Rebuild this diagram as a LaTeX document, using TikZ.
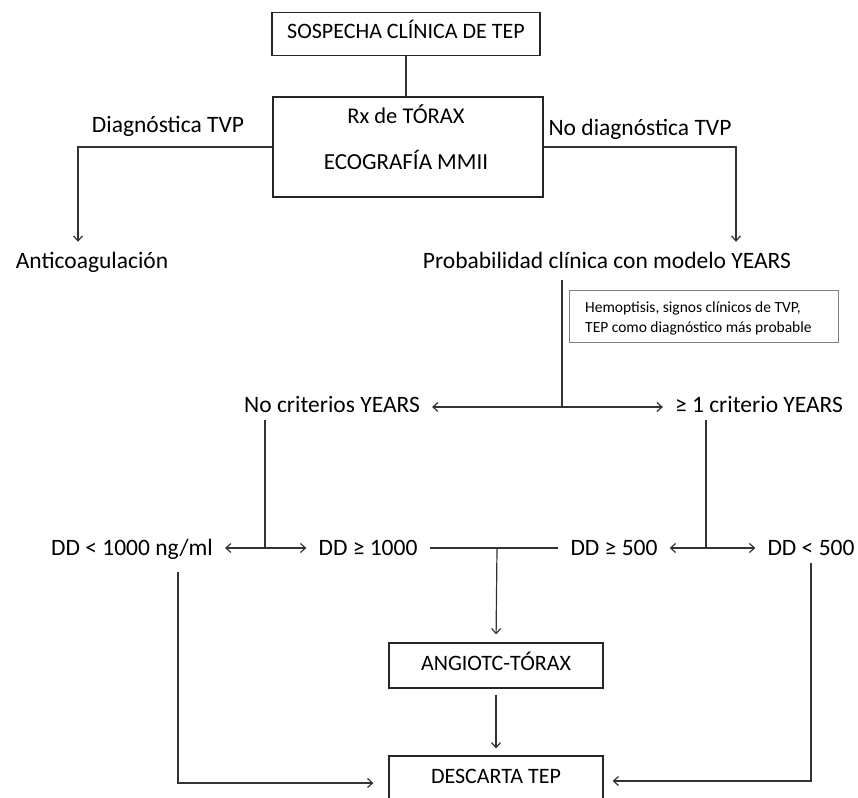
\documentclass[tikz,border=0pt]{standalone}
\usepackage{fontspec}
\setmainfont{Carlito}
\usetikzlibrary{arrows.meta}
\begin{document}
\begin{tikzpicture}[x=1pt,y=-1pt,
  line/.style={draw=black!80, line width=1.2pt},
  arr/.style={line, -{Straight Barb[length=5pt,width=9pt]}},
  box/.style={draw=black!85, line width=1.2pt, inner sep=0pt,
    font=\fontsize{22}{26}\selectfont, text height=15pt, text depth=5pt},
  txt/.style={font=\fontsize{23.5}{28}\selectfont, inner xsep=12pt, inner ysep=0pt,
    text height=15pt, text depth=5pt},
]
\useasboundingbox (0,0) rectangle (858,797);
\clip (0,0) rectangle (858,797);

% boxes
\node[box, minimum width=268pt, minimum height=43pt] (sosp) at (406,34) {SOSPECHA CLÍNICA DE TEP};
\node[box, minimum width=270pt, minimum height=100pt] (rx) at (408,147) {};
\node[txt, font=\fontsize{22.5}{26}\selectfont] (rxt) at (406,118) {Rx de TÓRAX};
\node[txt, font=\fontsize{23}{26}\selectfont] (eco) at (406,164) {ECOGRAFÍA MMII};
\node[box, minimum width=214pt, minimum height=45pt] (angio) at (496,665.5) {ANGIOTC-TÓRAX};
\node[box, minimum width=214pt, minimum height=44pt] (desc) at (496,778) {DESCARTA TEP};

% plain labels
\node[txt] (diag) at (168,127) {Diagnóstica TVP};
\node[txt] (nodiag) at (640,130) {No diagnóstica TVP};
\node[txt] (antico) at (92,263) {Anticoagulación};
\node[txt] (prob) at (607,263) {Probabilidad clínica con modelo YEARS};
\node[txt] (nocrit) at (332,407) {No criterios YEARS};
\node[txt] (crit) at (759,407) {≥ 1 criterio YEARS};
\node[txt] (dd1) at (132,550) {DD < 1000 ng/ml};
\node[txt] (dd2) at (368,550) {DD ≥ 1000};
\node[txt] (dd3) at (614,550) {DD ≥ 500};
\node[txt] (dd4) at (811,550) {DD < 500};

% YEARS criteria note
\node[draw=black!50, line width=1pt, minimum width=269pt, minimum height=52pt, inner sep=0pt] (hint) at (703.5,316) {};
\node[anchor=west, align=left, inner sep=0pt, font=\fontsize{15.5}{20}\selectfont] (hintt) at (585,318)
  {Hemoptisis, signos clínicos de TVP,\\TEP como diagnóstico más probable};

% junctions
\coordinate (j1) at (562,407);
\coordinate (j2) at (265,548);
\coordinate (j3) at (706,548);
\coordinate (j4) at (497,548);
\coordinate (k1) at (178,783);
\coordinate (k2) at (811,781);

% connectors
\draw[line] (sosp.south) -- (sosp.south |- rx.north);
\draw[arr, shorten >=11pt] (rx.west) -| ([xshift=-14pt]antico.north);
\draw[arr, shorten >=11pt] (rx.east) -| ([xshift=129pt]prob.north);

\draw[line, shorten <=7pt] (j1 |- prob.south) -- (j1);
\draw[arr] (j1) -- (j1 -| nocrit.east);
\draw[arr] (j1) -- (j1 -| crit.west);

\draw[line, shorten <=3pt] (j2 |- nocrit.south) -- (j2);
\draw[arr] (j2) -- (j2 -| dd1.east);
\draw[arr] (j2) -- (j2 -| dd2.west);

\draw[line, shorten <=3pt] (j3 |- crit.south) -- (j3);
\draw[arr] (j3) -- (j3 -| dd3.east);
\draw[arr] (j3) -- (j3 -| dd4.west);

\draw[line] (dd2.east |- j4) -- (dd3.west |- j4);
\draw[arr, shorten >=8pt] (j4) -- (angio.north);
\draw[arr, shorten <=6pt, shorten >=7pt] (angio.south) -- (desc.north);

\draw[arr, shorten >=15pt] ([yshift=-12pt]k1 |- dd1.south) -- (k1) -- (k1 -| desc.west);
\draw[arr, shorten >=9pt] ([yshift=-3pt]k2 |- dd4.south) -- (k2) -- (k2 -| desc.east);
\end{tikzpicture}
\end{document}
